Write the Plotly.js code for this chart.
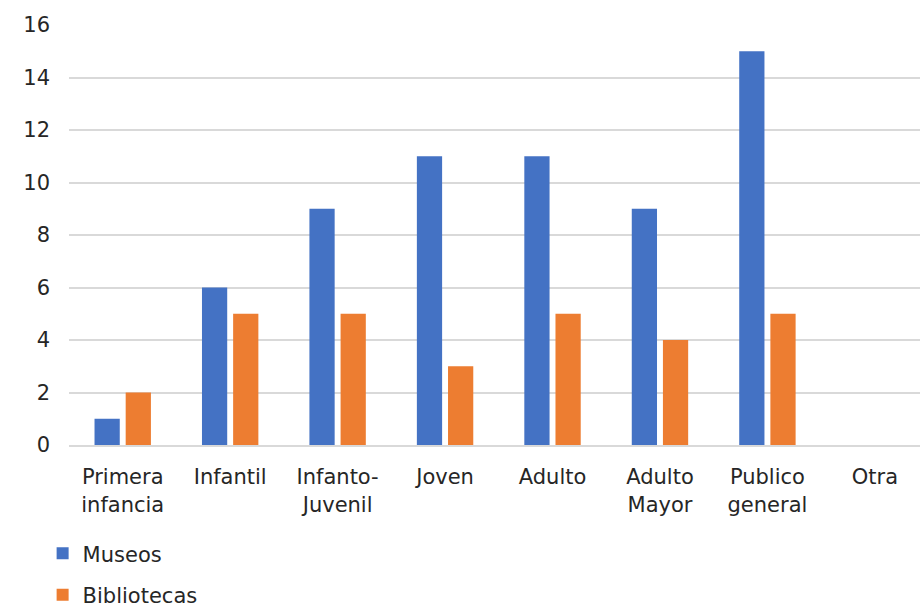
<!DOCTYPE html>
<html>
<head>
<meta charset="utf-8">
<script src="https://cdn.plot.ly/plotly-3.0.1.min.js"></script>
<style>html,body{margin:0;padding:0;background:#fff;}#chart{width:920px;height:613px;}</style>
</head>
<body>
<div id="chart"></div>
<script>
const categories = ["Primera<br>infancia", "Infantil", "Infanto-<br>Juvenil", "Joven", "Adulto", "Adulto<br>Mayor", "Publico<br>general", "Otra"];
const museos = [1, 6, 9, 11, 11, 9, 15, null];
const bibliotecas = [2, 5, 5, 3, 5, 4, 5, null];
const yTicks = [0, 2, 4, 6, 8, 10, 12, 14, 16];

const font = "DejaVu Sans, Verdana, sans-serif";
const data = [
  {type: "bar", name: "Museos", x: categories, y: museos, marker: {color: "#4472C4"}, legendgroup: "a", hoverinfo: "y"},
  {type: "bar", name: "Bibliotecas", x: categories, y: bibliotecas, marker: {color: "#ED7D31"}, legendgroup: "b", hoverinfo: "y"}
];
const layout = {
  width: 920, height: 613,
  margin: {l: 69, r: 0, t: 25, b: 168, autoexpand: false},
  paper_bgcolor: "#fff", plot_bgcolor: "#fff",
  barmode: "group", bargap: 0.42, bargroupgap: 0.19,
  font: {family: font, size: 21, color: "#262626"},
  xaxis: {type: "category", range: [-0.5, 7.42], showgrid: false, showline: true, linecolor: "#d9d9d9", linewidth: 2, ticks: "", ticklabelstandoff: 12, tickfont: {size: 21}, fixedrange: true},
  yaxis: {range: [0, 16], tickvals: yTicks, showgrid: true, gridcolor: "#d9d9d9", gridwidth: 2, zeroline: false, showline: false, ticks: "", ticklabelstandoff: 18, tickfont: {size: 21}, fixedrange: true},
  showlegend: true,
  legend: {orientation: "v", x: -0.031, xanchor: "left", y: -0.21, yanchor: "top", xref: "paper", yref: "paper", font: {size: 21, family: font}, tracegroupgap: 11, itemwidth: 30, traceorder: "grouped", bgcolor: "rgba(0,0,0,0)"}
};
Plotly.newPlot("chart", data, layout, {displayModeBar: false, staticPlot: true});
</script>
</body>
</html>
